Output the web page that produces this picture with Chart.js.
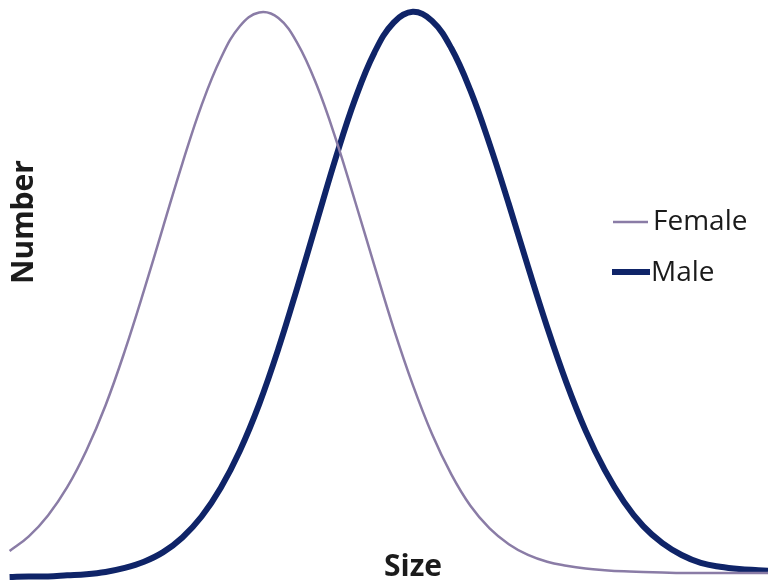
<!DOCTYPE html>
<html>
<head>
<meta charset="utf-8">
<script src="https://cdn.jsdelivr.net/npm/chart.js@4/dist/chart.umd.min.js"></script>
<style>
html,body{margin:0;padding:0;background:#fff;}
#wrap{width:768px;height:582px;position:relative;}
</style>
</head>
<body>
<div id="wrap"><canvas id="c" width="768" height="582"></canvas></div>
<script>
// Values (Size and Number in relative units, peak = 100)
const sizes = [1.25, 3.75, 6.25, 8.75, 11.25, 13.75, 16.25, 18.75, 21.25, 23.75, 26.25, 28.75, 31.25, 33.75, 36.25, 38.75, 41.25, 43.75, 46.25, 48.75, 51.25, 53.75, 56.25, 58.75, 61.25, 63.75, 66.25, 68.75, 71.25, 73.75, 76.25, 78.75, 81.25, 83.75, 86.25, 88.75, 91.25, 93.75, 96.25, 98.75, 100];
const femaleCount = [4.6, 7.2, 10.9, 15.9, 22.4, 30.4, 40.0, 50.7, 62.0, 73.2, 83.5, 91.8, 97.5, 99.9, 98.9, 94.4, 87.0, 77.4, 66.4, 55.1, 44.0, 34.0, 25.3, 18.2, 12.6, 8.6, 5.8, 3.9, 2.7, 2.0, 1.5, 1.2, 1.0, 0.9, 0.8, 0.7, 0.7, 0.7, 0.7, 0.7, 0.7];
const maleCount   = [0.0, 0.1, 0.1, 0.3, 0.5, 0.9, 1.6, 2.7, 4.4, 7.0, 10.7, 15.8, 22.4, 30.6, 40.4, 51.4, 62.9, 74.3, 84.6, 92.8, 98.1, 100, 98.4, 93.6, 86.1, 76.6, 66.0, 54.9, 44.2, 34.4, 25.9, 18.9, 13.3, 9.0, 6.0, 3.9, 2.5, 1.8, 1.4, 1.2, 1.1];
const seriesNames = ["Female", "Male"];
const xTitle = "Size";
const yTitle = "Number";

const femaleColor = "#8a7ca6";
const maleColor = "#0f2468";

function pts(xs, ys){ return xs.map((x,i)=>({x:x, y:ys[i]})); }

const overlay = {
  id: "overlay",
  afterDraw(chart){
    const ctx = chart.ctx;
    ctx.save();
    ctx.fillStyle = "#1b1b1b";
    // axis titles
    ctx.font = "bold 30px 'Open Sans'";
    ctx.textAlign = "center";
    ctx.textBaseline = "alphabetic";
    ctx.fillText(xTitle, 413, 576);
    ctx.save();
    ctx.translate(33, 222);
    ctx.rotate(-Math.PI/2);
    ctx.fillText(yTitle, 0, 0);
    ctx.restore();
    // legend
    const ds = chart.data.datasets;
    const rows = [
      {y: 222, x0: 613, x1: 648, tx: 653, ty: 230},
      {y: 272, x0: 612, x1: 650, tx: 651, ty: 281}
    ];
    ctx.textAlign = "left";
    ctx.font = "28px 'Open Sans'";
    ds.forEach((d,i)=>{
      const r = rows[i];
      ctx.strokeStyle = d.borderColor;
      ctx.lineWidth = d.borderWidth;
      ctx.lineCap = "butt";
      ctx.beginPath();
      ctx.moveTo(r.x0, r.y);
      ctx.lineTo(r.x1, r.y);
      ctx.stroke();
      ctx.fillStyle = "#1b1b1b";
      ctx.fillText(d.label, r.tx, r.ty);
    });
    ctx.restore();
  }
};

new Chart(document.getElementById("c"), {
  type: "line",
  data: {
    datasets: [
      {label: seriesNames[0], data: pts(sizes, femaleCount), borderColor: femaleColor, borderWidth: 2.5, pointRadius: 0, tension: 0.4, fill: false, clip: false},
      {label: seriesNames[1], data: pts(sizes, maleCount), borderColor: maleColor, borderWidth: 6, pointRadius: 0, tension: 0.4, fill: false, clip: false}
    ]
  },
  options: {
    responsive: false,
    animation: false,
    devicePixelRatio: 1,
    layout: {padding: {left: 0, right: 0, top: 0, bottom: 5}},
    plugins: {legend: {display: false}, tooltip: {enabled: false}},
    scales: {
      x: {type: "linear", min: 0, max: 100, display: false},
      y: {type: "linear", min: 0, max: 102.1, display: false}
    }
  },
  plugins: [overlay]
});
</script>
</body>
</html>
